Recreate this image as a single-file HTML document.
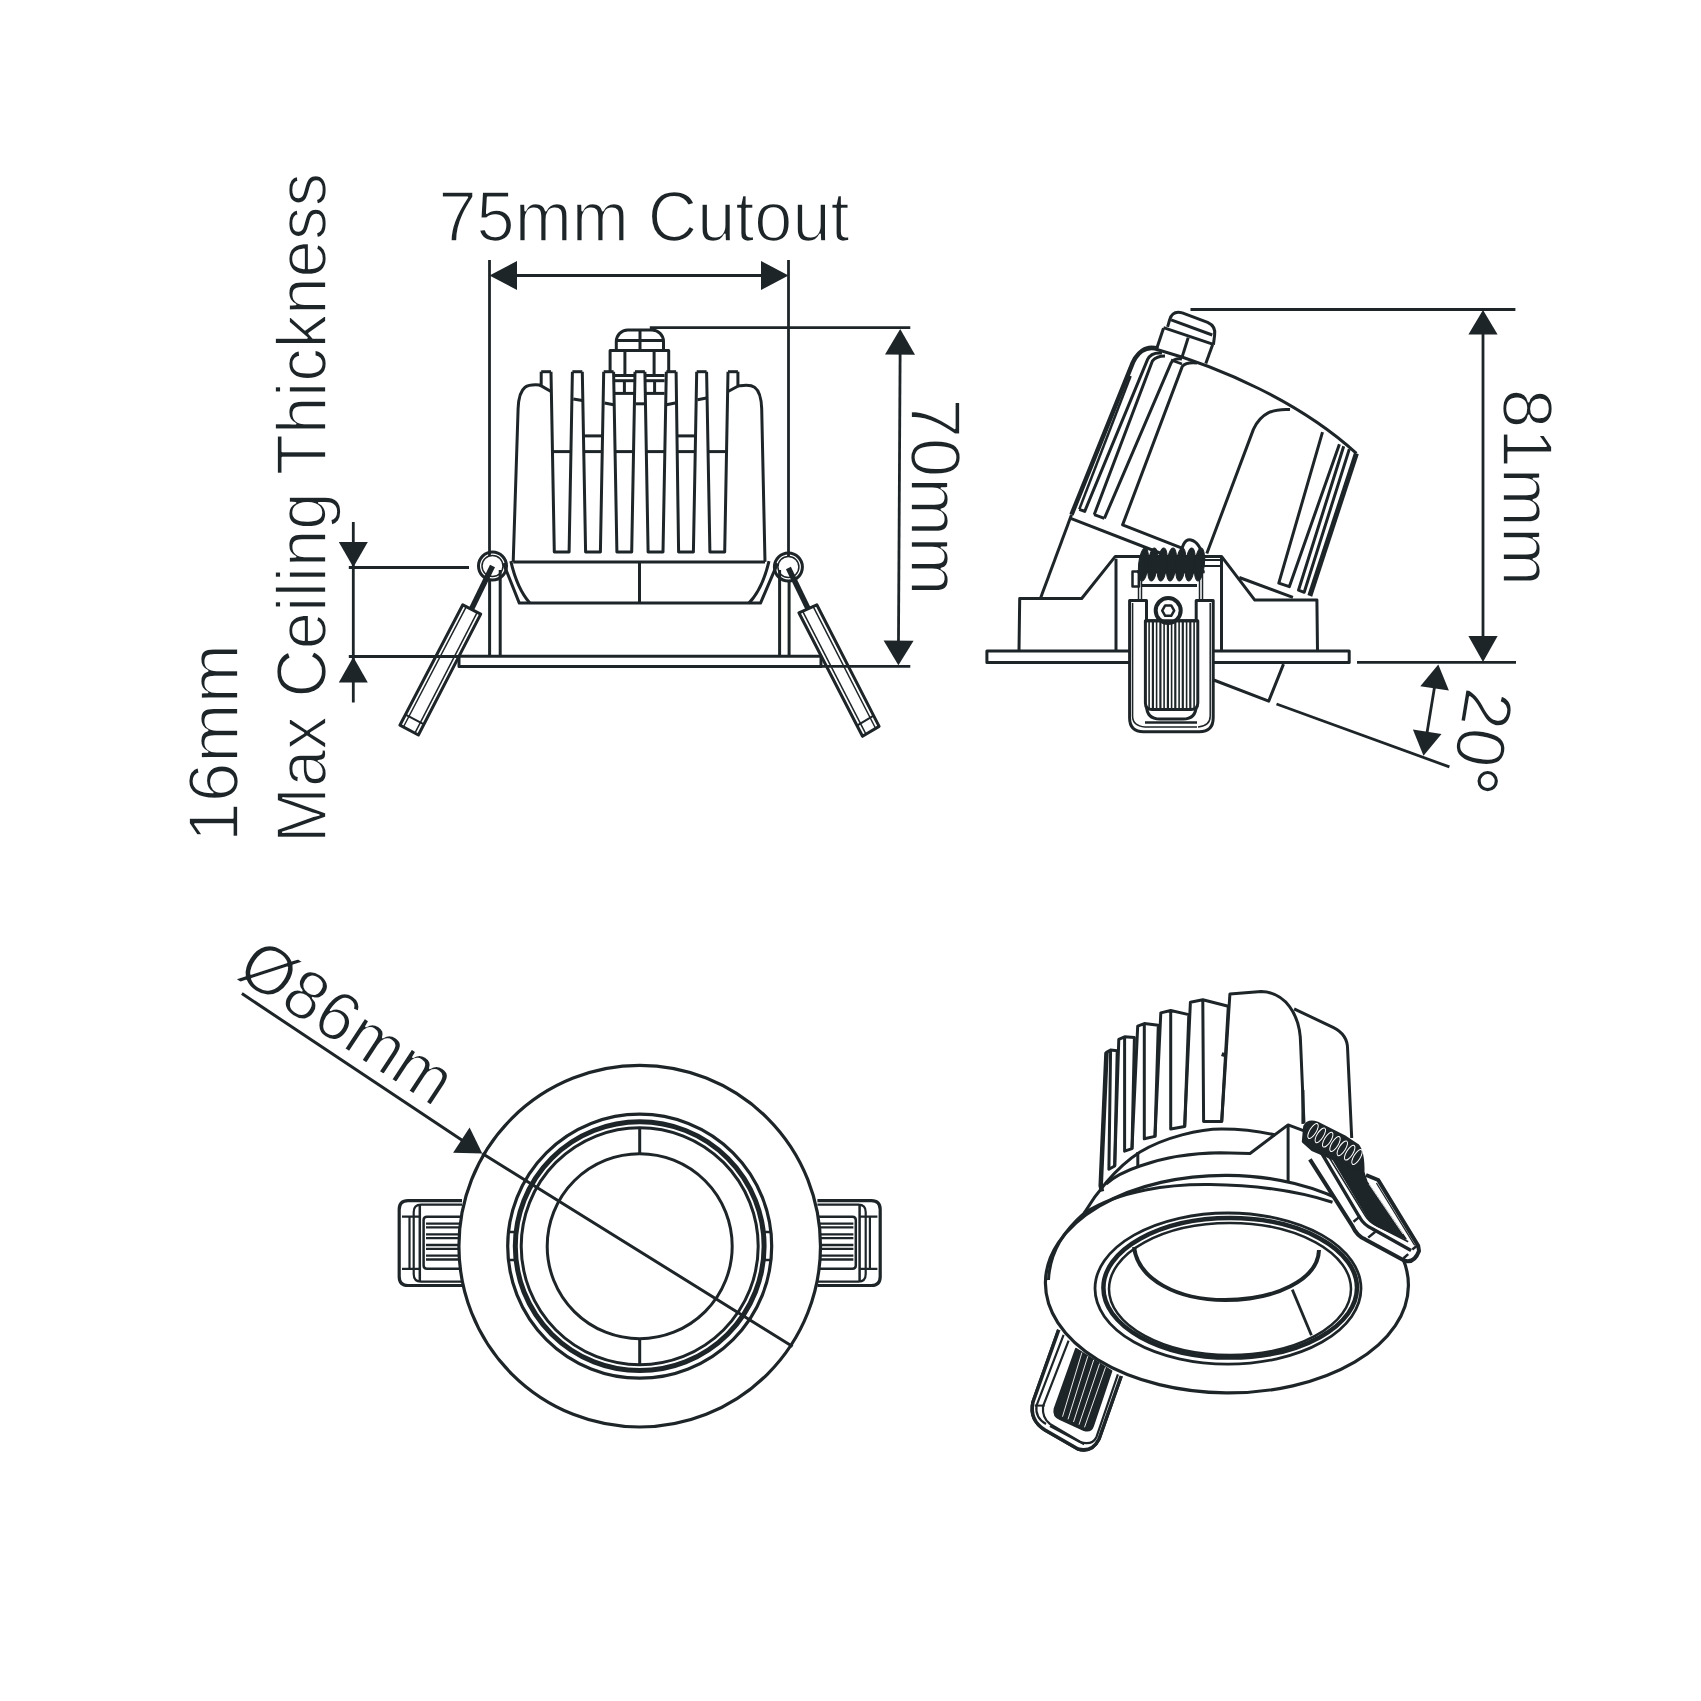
<!DOCTYPE html>
<html><head><meta charset="utf-8"><style>
html,body{margin:0;padding:0;background:#fff;}
svg{display:block;}
.t{font-family:"Liberation Sans",sans-serif;fill:#1e2528;stroke:#fff;stroke-width:1.7px;}
</style></head><body>
<svg width="1701" height="1701" viewBox="0 0 1701 1701">
<rect width="1701" height="1701" fill="#fff"/>
<g stroke="#1e2528" fill="none" stroke-linejoin="round" stroke-linecap="butt">
<path d="M489.5 260.0 L489.5 556.0" stroke-width="2.8"/>
<path d="M788.5 260.0 L788.5 556.0" stroke-width="2.8"/>
<path d="M500.0 275.5 L780.0 275.5" stroke-width="2.8"/>
<path d="M489.5 275.5 L517.0 290.0 L517.0 261.0 Z" fill="#1e2528" stroke="none"/>
<path d="M788.5 275.5 L761.0 261.0 L761.0 290.0 Z" fill="#1e2528" stroke="none"/>
<text x="0" y="0" transform="translate(438.5 240.7) rotate(0)" font-size="69.8" textLength="411.0" lengthAdjust="spacingAndGlyphs" class="t">75mm Cutout</text>
<path d="M649.8 327.6 L910.3 327.6" stroke-width="2.8"/>
<path d="M821.0 666.3 L910.3 666.3" stroke-width="2.8"/>
<path d="M900.2 340.0 L898.4 655.0" stroke-width="2.8"/>
<path d="M900.2 329.0 L885.0 354.6 L915.0 354.8 Z" fill="#1e2528" stroke="none"/>
<path d="M898.4 665.2 L913.6 640.7 L883.6 640.5 Z" fill="#1e2528" stroke="none"/>
<text x="0" y="0" transform="translate(911.4 398.4) rotate(90)" font-size="69.8" textLength="197.2" lengthAdjust="spacingAndGlyphs" class="t">70mm</text>
<path d="M353.3 522.0 L353.3 702.5" stroke-width="2.8"/>
<path d="M348.8 567.5 L469.0 567.5" stroke-width="2.8"/>
<path d="M348.8 656.5 L459.0 656.5" stroke-width="2.8"/>
<path d="M353.3 567.3 L367.8 542.0 L338.8 542.0 Z" fill="#1e2528" stroke="none"/>
<path d="M353.3 657.0 L338.8 682.4 L367.8 682.4 Z" fill="#1e2528" stroke="none"/>
<text x="0" y="0" transform="translate(326.0 843.0) rotate(-90)" font-size="69.8" textLength="670.0" lengthAdjust="spacingAndGlyphs" class="t">Max Ceiling Thickness</text>
<text x="0" y="0" transform="translate(237.6 842.0) rotate(-90)" font-size="69.8" textLength="198.0" lengthAdjust="spacingAndGlyphs" class="t">16mm</text>
<path d="M513.2 561.9 L518.1 408.8 C518.9 384.1 528.8 384.1 539.5 384.9 L541.2 384.9" stroke-width="3"/>
<path d="M765.0 561.9 L761.7 408.8 C760.9 384.1 751.0 384.1 740.3 385.7 L737.9 385.7" stroke-width="3"/>
<path d="M541.2 371.7 L551.0 371.7" stroke-width="3" fill="none" />
<path d="M572.4 371.7 L582.3 371.7" stroke-width="3" fill="none" />
<path d="M603.7 371.7 L613.6 371.7" stroke-width="3" fill="none" />
<path d="M635.0 371.7 L644.9 371.7" stroke-width="3" fill="none" />
<path d="M666.3 371.7 L676.1 371.7" stroke-width="3" fill="none" />
<path d="M696.7 371.7 L706.6 371.7" stroke-width="3" fill="none" />
<path d="M728.0 371.7 L737.9 371.7" stroke-width="3" fill="none" />
<path d="M541.2 371.7 L541.2 384.9" stroke-width="3" fill="none" />
<path d="M737.9 371.7 L737.9 385.7" stroke-width="3" fill="none" />
<path d="M551.0 371.7 L554.3 552.0 L569.1 552.0 L572.4 371.7" stroke-width="3" fill="none" />
<path d="M552.5 451.6 L571.0 451.6" stroke-width="3" fill="none" />
<path d="M582.3 371.7 L585.6 552.0 L600.4 552.0 L603.7 371.7" stroke-width="3" fill="none" />
<path d="M583.8 451.6 L602.2 451.6" stroke-width="3" fill="none" />
<path d="M613.6 371.7 L616.9 552.0 L631.7 552.0 L635.0 371.7" stroke-width="3" fill="none" />
<path d="M615.0 451.6 L633.5 451.6" stroke-width="3" fill="none" />
<path d="M644.9 371.7 L648.1 552.0 L663.0 552.0 L666.3 371.7" stroke-width="3" fill="none" />
<path d="M646.3 451.6 L664.8 451.6" stroke-width="3" fill="none" />
<path d="M676.1 371.7 L678.6 552.0 L693.4 552.0 L696.7 371.7" stroke-width="3" fill="none" />
<path d="M677.2 451.6 L695.2 451.6" stroke-width="3" fill="none" />
<path d="M706.6 371.7 L709.9 552.0 L724.7 552.0 L728.0 371.7" stroke-width="3" fill="none" />
<path d="M708.0 451.6 L726.5 451.6" stroke-width="3" fill="none" />
<path d="M583.5 435.9 L602.5 435.9" stroke-width="3" fill="none" />
<path d="M677.0 435.9 L695.5 435.9" stroke-width="3" fill="none" />
<path d="M539.5 384.9 L551.0 391.5" stroke-width="3" fill="none" />
<path d="M573.3 398.9 L582.3 400.5" stroke-width="3" fill="none" />
<path d="M604.5 403.0 L613.6 404.7" stroke-width="3" fill="none" />
<path d="M635.8 403.8 L644.9 403.8" stroke-width="3" fill="none" />
<path d="M666.3 404.7 L675.3 403.0" stroke-width="3" fill="none" />
<path d="M697.5 399.7 L706.6 398.1" stroke-width="3" fill="none" />
<path d="M728.0 391.5 L738.7 385.7" stroke-width="3" fill="none" />
<path d="M616.3 350 V341.5 A11.5 11.5 0 0 1 627.8 330 H652 A11.5 11.5 0 0 1 663.5 341.5 V350" stroke-width="3"/>
<path d="M616.3 340.5 L663.5 340.5" stroke-width="3"/>
<path d="M640.0 330.0 L640.0 350.0" stroke-width="3"/>
<path d="M610.1 372 V350.6 H668.7 V372" stroke-width="3"/>
<path d="M624.9 350.6 L624.9 374.0" stroke-width="3"/>
<path d="M654.1 350.6 L654.1 374.0" stroke-width="3"/>
<path d="M613.6 375.5 L635.0 375.5" stroke-width="3" fill="none" />
<path d="M644.9 375.5 L664.6 375.5" stroke-width="3" fill="none" />
<path d="M613.6 380.7 L635.0 380.7" stroke-width="3" fill="none" />
<path d="M644.9 380.7 L664.6 380.7" stroke-width="3" fill="none" />
<path d="M613.6 393.4 L635.0 393.4" stroke-width="3" fill="none" />
<path d="M644.9 393.4 L664.6 393.4" stroke-width="3" fill="none" />
<path d="M624.4 380.7 L624.4 393.4" stroke-width="3" fill="none" />
<path d="M654.6 380.7 L654.6 393.4" stroke-width="3" fill="none" />
<path d="M513.2 561.9 L765.0 561.9" stroke-width="3" fill="none" />
<path d="M503.4 563.3 L519.3 603.1 L760.5 603.1 L777.5 563.3" stroke-width="3" fill="none" />
<path d="M510.8 561.2 Q517.1 588.7 529.8 603.1" stroke-width="3"/>
<path d="M769.0 561.2 Q762.6 588.7 748.9 603.1" stroke-width="3"/>
<path d="M639.5 561.2 L639.5 603.1" stroke-width="3" fill="none" />
<path d="M489.6 580.0 L489.6 656.0" stroke-width="3"/>
<path d="M500.2 570.0 L500.2 656.0" stroke-width="3"/>
<path d="M779.6 570.0 L779.6 656.0" stroke-width="3"/>
<path d="M789.1 580.0 L789.1 656.0" stroke-width="3"/>
<path d="M459.0 656.2 L459.0 666.6 L821.0 666.6 L821.0 656.2" stroke-width="3" fill="none" />
<path d="M459.0 656.2 L821.0 656.2" stroke-width="3"/>
<circle cx="492.5" cy="566" r="14" stroke-width="3"/>
<circle cx="492.5" cy="566" r="10.5" stroke-width="1.5"/>
<circle cx="788.4" cy="567" r="14" stroke-width="3"/>
<circle cx="788.4" cy="567" r="10.5" stroke-width="1.5"/>
<path d="M462.8 604.8 L480.7 614.1 L418.4 735.0 L399.9 725.2 Z" stroke-width="3" fill="none" />
<path d="M466.3 606.6 L403.4 727.0" stroke-width="1.5" fill="none" />
<path d="M477.2 612.3 L414.9 733.2" stroke-width="1.5" fill="none" />
<path d="M405.5 714.6 L424.0 724.4" stroke-width="2" fill="none" />
<path d="M798.9 612.8 L816.8 604.8 L879.1 726.4 L862.5 736.3 Z" stroke-width="3" fill="none" />
<path d="M802.6 611.2 L866.2 734.7" stroke-width="1.5" fill="none" />
<path d="M813.1 606.4 L875.4 728.0" stroke-width="1.5" fill="none" />
<path d="M857.0 725.6 L873.6 715.7" stroke-width="2" fill="none" />
<path d="M471.5 609.0 L492.5 566.0" stroke-width="5.5"/>
<path d="M808.0 608.5 L788.4 568.0" stroke-width="5.5"/>
<path d="M1190.5 309.5 L1515.4 309.5" stroke-width="2.8"/>
<path d="M1357.0 662.3 L1516.0 662.3" stroke-width="2.8"/>
<path d="M1483.0 325.0 L1483.0 648.0" stroke-width="2.8"/>
<path d="M1483.0 310.1 L1468.4 334.6 L1497.6 334.6 Z" fill="#1e2528" stroke="none"/>
<path d="M1483.0 662.0 L1497.6 636.0 L1468.4 636.0 Z" fill="#1e2528" stroke="none"/>
<text x="0" y="0" transform="translate(1503.2 388.8) rotate(90)" font-size="69.8" textLength="197.4" lengthAdjust="spacingAndGlyphs" class="t">81mm</text>
<path d="M1276.5 704.0 L1449.4 766.9" stroke-width="2.8"/>
<path d="M1436.5 675.0 L1425.0 745.0" stroke-width="2.8"/>
<path d="M1438.3 664.4 L1420.3 686.2 L1448.9 690.6 Z" fill="#1e2528" stroke="none"/>
<path d="M1423.5 755.8 L1441.5 734.0 L1412.9 729.6 Z" fill="#1e2528" stroke="none"/>
<text x="0" y="0" transform="translate(1466.3 686.0) rotate(99.3)" font-size="69.8" textLength="78.0" lengthAdjust="spacingAndGlyphs" class="t">20</text>
<circle cx="1487.7" cy="781.1" r="8.6" stroke-width="3.2"/>
<path d="M1167.6 326.8 L1169.6 319.8 C1171.7 312.9 1176.4 311.2 1182.3 312.9 L1207.6 322.3 C1212.9 324.7 1215.8 328.2 1214.6 335.3 L1213.4 344.7" stroke-width="3"/>
<path d="M1171.1 319.8 L1212.3 335.0" stroke-width="3"/>
<path d="M1163.5 327.7 L1213.4 344.4" stroke-width="3"/>
<path d="M1163.5 328.2 L1156.4 349.4" stroke-width="3"/>
<path d="M1212.6 344.7 L1205.8 363.5" stroke-width="3"/>
<path d="M1188.2 337.6 L1182.3 356.4" stroke-width="3"/>
<path d="M1071.5 514.7 L1130.6 368.2 C1136 352 1146 345 1158 349" stroke-width="4.5"/>
<path d="M1079.3 509.3 L1130.6 376" stroke-width="2.5"/>
<path d="M1079.3 509.3 L1084.7 511.4 L1147.6 359.4 Q1151 352 1162 353" stroke-width="3"/>
<path d="M1094.2 514.7 L1104.4 518.4 M1094.2 514.7 L1152.3 361.2 Q1156 356 1165 356" stroke-width="3"/>
<path d="M1104.4 518.4 L1171.1 362.9 Q1174 358 1182 359" stroke-width="3"/>
<path d="M1182.6 548.4 L1122.6 524.9 L1182.3 366.4 Q1186 362 1197 363" stroke-width="3"/>
<path d="M1171 360 L1182 364" stroke-width="2.5"/>
<path d="M1157 349.5 C1220 367 1300 402 1356.4 453.4" stroke-width="3"/>
<path d="M1070.7 518.4 L1160 553" stroke-width="3"/>
<path d="M1071.5 514.7 L1040.4 598.5" stroke-width="3"/>
<path d="M1206.8 553.5 L1253.4 429.4 C1261 413 1273 408.5 1290 409.5" stroke-width="3"/>
<path d="M1356.4 453.4 L1309.8 595.9" stroke-width="5"/>
<path d="M1322.5 432.2 L1278.8 583.2 L1289.3 586.7 L1339.4 444.2" stroke-width="3"/>
<path d="M1343.7 446.3 L1298.5 590.2 L1304.2 592.3 L1349.3 449.1" stroke-width="3"/>
<path d="M1239.3 577.5 L1292.9 597.3" stroke-width="3"/>
<path d="M1019 650.4 L1019.7 598.5 L1081.7 598.5 L1115.3 556.4 L1221.5 556.4 L1254.8 600.1 L1316.9 600.1 L1317.5 650.4" stroke-width="3"/>
<path d="M1116.0 558.7 L1116.0 650.4" stroke-width="3"/>
<path d="M1221.5 556.4 L1221.5 650.4" stroke-width="3"/>
<path d="M986.9 650.9 H1349.2 V662.5 H986.9 Z" stroke-width="3"/>
<path d="M1213.7 680 L1268.7 701.1 L1283.5 664.1" stroke-width="3"/>
<path d="M1129.6 600.6 V717.8 Q1129.6 731.8 1143.6 731.8 H1199.2 Q1213.2 731.8 1213.2 717.8 V600.6 H1196.2 V705 Q1196.2 719.1 1183 719.1 H1160 Q1146.5 719.1 1146.5 705 V600.6 Z" fill="#fff" stroke-width="3"/>
<path d="M1132.6 603 V716 Q1132.6 726 1145 727 M1210.2 603 V716 Q1210.2 726 1198 727" stroke-width="1.5"/>
<path d="M1145.0 722.6 L1197.0 722.6" stroke-width="2.5"/>
<path d="M1145.0 727.0 L1197.0 727.0" stroke-width="1.5"/>
<path d="M1145.4 620.7 H1197.8 V703 Q1197.8 709.6 1191 709.6 H1152 Q1145.4 709.6 1145.4 703 Z" fill="#fff" stroke-width="3"/>
<path d="M1149.1 622.0 L1149.1 708.0" stroke-width="1.6"/>
<path d="M1152.9 622.0 L1152.9 708.0" stroke-width="2.2"/>
<path d="M1156.6 622.0 L1156.6 708.0" stroke-width="1.6"/>
<path d="M1160.4 622.0 L1160.4 708.0" stroke-width="2.2"/>
<path d="M1164.1 622.0 L1164.1 708.0" stroke-width="1.6"/>
<path d="M1167.9 622.0 L1167.9 708.0" stroke-width="2.2"/>
<path d="M1171.6 622.0 L1171.6 708.0" stroke-width="1.6"/>
<path d="M1175.3 622.0 L1175.3 708.0" stroke-width="2.2"/>
<path d="M1179.1 622.0 L1179.1 708.0" stroke-width="1.6"/>
<path d="M1182.8 622.0 L1182.8 708.0" stroke-width="2.2"/>
<path d="M1186.6 622.0 L1186.6 708.0" stroke-width="1.6"/>
<path d="M1190.3 622.0 L1190.3 708.0" stroke-width="2.2"/>
<path d="M1194.1 622.0 L1194.1 708.0" stroke-width="1.6"/>
<circle cx="1168.2" cy="610.6" r="12.5" fill="#fff" stroke-width="4"/>
<path d="M1132.5 571.5 H1139 V586.5 H1132.5 Z" stroke-width="2.5"/>
<path d="M1174.2 610.6 L1171.2 605.4 L1165.2 605.4 L1162.2 610.6 L1165.2 615.8 L1171.2 615.8 Z" stroke-width="2.5"/>
<path d="M1145.4 620.7 H1197.8" stroke-width="3"/>
<path d="M1137 571.7 H1204.7 M1141 585.5 H1197" stroke-width="3"/>
<path d="M1138.5 572.0 L1138.5 600.6" stroke-width="1.5"/>
<path d="M1141.5 572.0 L1141.5 600.6" stroke-width="1.5"/>
<path d="M1199.5 572.0 L1199.5 600.6" stroke-width="1.5"/>
<path d="M1202.5 572.0 L1202.5 600.6" stroke-width="1.5"/>
<ellipse cx="1143.5" cy="564.5" rx="4.9" ry="16.5" transform="rotate(6 1143.5 564.5)" fill="#1e2528" stroke="#1e2528" stroke-width="1"/>
<ellipse cx="1152.8" cy="564.5" rx="4.9" ry="16.5" transform="rotate(6 1152.8 564.5)" fill="#1e2528" stroke="#1e2528" stroke-width="1"/>
<ellipse cx="1162.2" cy="564.5" rx="4.9" ry="16.5" transform="rotate(6 1162.2 564.5)" fill="#1e2528" stroke="#1e2528" stroke-width="1"/>
<ellipse cx="1171.5" cy="564.5" rx="4.9" ry="16.5" transform="rotate(6 1171.5 564.5)" fill="#1e2528" stroke="#1e2528" stroke-width="1"/>
<ellipse cx="1180.8" cy="564.5" rx="4.9" ry="16.5" transform="rotate(6 1180.8 564.5)" fill="#1e2528" stroke="#1e2528" stroke-width="1"/>
<ellipse cx="1190.2" cy="564.5" rx="4.9" ry="16.5" transform="rotate(6 1190.2 564.5)" fill="#1e2528" stroke="#1e2528" stroke-width="1"/>
<ellipse cx="1199.5" cy="564.5" rx="4.9" ry="16.5" transform="rotate(6 1199.5 564.5)" fill="#1e2528" stroke="#1e2528" stroke-width="1"/>
<path d="M1180 560 Q1182 538 1191 540 Q1200 542 1204 560" stroke-width="3"/>
<path d="M1204 560 H1222 M1204 566 H1222" stroke-width="1.8"/>
<path d="M462.0 1200.6 H408.0 Q399.2 1200.6 399.2 1209.6 V1276.5 Q399.2 1285.5 408.0 1285.5 H462.0" stroke-width="3.2"/>
<path d="M462.0 1204.6 H421.0 Q413.7 1204.6 413.7 1212 V1274 Q413.7 1281.6 421.0 1281.6 H462.0" stroke-width="2.2"/>
<path d="M419.8 1205 V1281" stroke-width="2.5"/>
<path d="M409.5 1216.7 V1269" stroke-width="2.2"/>
<path d="M402.0 1216.7 H420.0 M402.0 1268.9 H420.0" stroke-width="2.2"/>
<path d="M462.0 1216.7 H427.0 Q423.6 1216.7 423.6 1220 V1265.5 Q423.6 1268.7 427.0 1268.7 H462.0" stroke-width="2.5"/>
<path d="M426.0 1223.6 H461.0" stroke-width="2.3"/>
<path d="M426.0 1227.4 H461.0" stroke-width="2.3"/>
<path d="M426.0 1234.3 H461.0" stroke-width="2.3"/>
<path d="M426.0 1238.1 H461.0" stroke-width="2.3"/>
<path d="M426.0 1245 H461.0" stroke-width="2.3"/>
<path d="M426.0 1248.8 H461.0" stroke-width="2.3"/>
<path d="M426.0 1255.7 H461.0" stroke-width="2.3"/>
<path d="M426.0 1259.5 H461.0" stroke-width="2.3"/>
<path d="M817.4 1200.6 H871.4 Q880.2 1200.6 880.2 1209.6 V1276.5 Q880.2 1285.5 871.4 1285.5 H817.4" stroke-width="3.2"/>
<path d="M817.4 1204.6 H858.4 Q865.7 1204.6 865.7 1212 V1274 Q865.7 1281.6 858.4 1281.6 H817.4" stroke-width="2.2"/>
<path d="M859.6 1205 V1281" stroke-width="2.5"/>
<path d="M869.9 1216.7 V1269" stroke-width="2.2"/>
<path d="M877.4 1216.7 H859.4 M877.4 1268.9 H859.4" stroke-width="2.2"/>
<path d="M817.4 1216.7 H852.4 Q855.8 1216.7 855.8 1220 V1265.5 Q855.8 1268.7 852.4 1268.7 H817.4" stroke-width="2.5"/>
<path d="M853.4 1223.6 H818.4" stroke-width="2.3"/>
<path d="M853.4 1227.4 H818.4" stroke-width="2.3"/>
<path d="M853.4 1234.3 H818.4" stroke-width="2.3"/>
<path d="M853.4 1238.1 H818.4" stroke-width="2.3"/>
<path d="M853.4 1245 H818.4" stroke-width="2.3"/>
<path d="M853.4 1248.8 H818.4" stroke-width="2.3"/>
<path d="M853.4 1255.7 H818.4" stroke-width="2.3"/>
<path d="M853.4 1259.5 H818.4" stroke-width="2.3"/>
<circle cx="639.7" cy="1246.2" r="180.8" fill="#fff" stroke-width="3.2"/>
<circle cx="639.7" cy="1246.2" r="132" stroke-width="3.2"/>
<circle cx="639.7" cy="1246.2" r="124.4" stroke-width="5"/>
<circle cx="639.7" cy="1246.2" r="118.5" stroke-width="3"/>
<circle cx="639.7" cy="1246.2" r="92.5" stroke-width="3"/>
<path d="M639.7 1127.7 L639.7 1153.7" stroke-width="3"/>
<path d="M639.7 1338.7 L639.7 1364.7" stroke-width="3"/>
<path d="M507.5 1232 H515.0 M507.5 1260 H515.0" stroke-width="2.5"/>
<path d="M771.9 1232 H764.4 M771.9 1260 H764.4" stroke-width="2.5"/>
<path d="M241.9 993.6 L470 1145.5 M482.3 1153.5 L792.6 1346.5" stroke-width="3"/>
<path d="M482.3 1153.4 L453.1 1152.7 L469.6 1127.6 Z" fill="#1e2528" stroke="none"/>
<text x="0" y="0" transform="translate(234.0 976.2) rotate(33.3)" font-size="69.8" textLength="240.0" lengthAdjust="spacingAndGlyphs" class="t">Ø86mm</text>
<path d="M1100.7 1185.8 L1106.5 1052.4 L1110.6 1050.0 L1117.2 1050.8 L1114.7 1166.0 L1108.9 1169.3 L1110.6 1050.0" stroke-width="3"/>
<path d="M1114.7 1166.0 L1118.8 1039.3 L1124.6 1036.8 L1134.4 1037.6 L1132.0 1148.7 L1124.6 1151.2 L1124.6 1036.8" stroke-width="3"/>
<path d="M1132.0 1148.7 L1137.7 1026.1 L1144.3 1023.6 L1158.3 1025.3 L1155.0 1136.4 L1144.3 1138.8 L1144.3 1023.6" stroke-width="3"/>
<path d="M1155.0 1136.4 L1160.8 1012.9 L1170.7 1010.5 L1188.8 1014.6 L1184.7 1126.5 L1170.7 1129.0 L1170.7 1010.5" stroke-width="3"/>
<path d="M1184.7 1126.5 L1190.4 1002.2 L1202.8 999.8 L1228.3 1006.3 L1221.7 1121.6 L1203.6 1121.6 L1202.8 999.8" stroke-width="3"/>
<path d="M1106.5 1052.4 L1100.7 1185.8 L1102 1191.5" stroke-width="4.5"/>
<path d="M1221.7 1121.6 L1229.9 994.0 L1261.2 991.5 C1284.2 992.3 1300.7 1012.9 1300.7 1045.8 L1304.0 1123.2" stroke-width="3"/>
<path d="M1294.1 1008.8 L1333.6 1027.7 C1343.5 1032.7 1347.6 1039.3 1347.6 1049.1 L1351.7 1138.0" stroke-width="3"/>
<path d="M1221.7 1054.1 L1226.6 1055.7" stroke-width="4"/>
<path d="M1058.7 1329.9 L1033 1402 Q1029 1420 1045 1430 L1078 1449 Q1092 1453 1099 1439 L1121.2 1376" fill="#fff" stroke-width="3.5"/>
<path d="M1063.6 1334.8 L1036.5 1405.6 Q1035 1418 1046 1424 M1068.6 1340.6 L1043 1406.4 Q1042 1418 1050 1424 L1084.2 1444.3" stroke-width="2.2"/>
<path d="M1034.8 1405.6 H1044.7" stroke-width="2"/>
<path d="M1117.9 1374.3 L1096.5 1436.9 Q1092 1446 1080 1442 L1050 1426" stroke-width="2.2"/>
<path d="M1076 1348.8 L1054.6 1408.9 Q1053 1416 1060 1419 L1084 1430 Q1091 1432 1093 1426 L1111.4 1371 Z" fill="#fff" stroke-width="2.5"/>
<path d="M1079.5 1351.0 L1060.3 1417.4" stroke-width="2.6"/>
<path d="M1083.1 1353.2 L1063.6 1418.8" stroke-width="1.8"/>
<path d="M1086.6 1355.5 L1066.9 1420.2" stroke-width="2.6"/>
<path d="M1090.2 1357.7 L1070.2 1421.6" stroke-width="1.8"/>
<path d="M1093.7 1359.9 L1073.5 1423.0" stroke-width="2.6"/>
<path d="M1097.2 1362.1 L1076.8 1424.4" stroke-width="1.8"/>
<path d="M1100.8 1364.3 L1080.1 1425.8" stroke-width="2.6"/>
<path d="M1104.3 1366.6 L1083.4 1427.2" stroke-width="1.8"/>
<path d="M1107.9 1368.8 L1086.7 1428.6" stroke-width="2.6"/>
<path d="M1058.7 1329.9 L1033 1402 Q1029 1420 1045 1430 L1078 1449 Q1092 1453 1099 1439 L1121.2 1376" fill="#fff" stroke-width="3.5"/>
<path d="M1063.6 1334.8 L1036.5 1405.6 Q1035 1418 1046 1424 M1068.6 1340.6 L1043 1406.4 Q1042 1418 1050 1424 L1084.2 1444.3" stroke-width="2.2"/>
<path d="M1034.8 1405.6 H1044.7" stroke-width="2"/>
<path d="M1117.9 1374.3 L1096.5 1436.9 Q1092 1446 1080 1442 L1050 1426" stroke-width="2.2"/>
<path d="M1076 1348.8 L1054.6 1408.9 Q1053 1416 1060 1419 L1084 1430 Q1091 1432 1093 1426 L1111.4 1371 Z" fill="#1e2528" stroke-width="2"/>
<path d="M1081.9 1352.5 L1062.5 1416.7" stroke="#fff" stroke-width="0.9"/>
<path d="M1087.8 1356.2 L1068.0 1419.3" stroke="#fff" stroke-width="0.9"/>
<path d="M1093.7 1359.9 L1073.5 1422.0" stroke="#fff" stroke-width="0.9"/>
<path d="M1099.6 1363.6 L1079.0 1424.7" stroke="#fff" stroke-width="0.9"/>
<path d="M1105.5 1367.3 L1084.5 1427.3" stroke="#fff" stroke-width="0.9"/>
<ellipse cx="1226.9" cy="1284.1" rx="181.5" ry="108.8" transform="rotate(0.5 1226.9 1284.1)" fill="#fff" stroke-width="3.2"/>
<path d="M1048.5 1280 C1050 1250 1065 1230 1084.2 1213.1 C1120 1190 1170 1184 1210 1184.5 C1260 1185 1300 1192 1332.5 1202.2" stroke-width="3"/>
<path d="M1084.2 1213.1 C1095 1195 1115 1168 1140 1152 C1165 1137 1200 1129 1221.7 1129 C1240 1129 1258 1131 1275 1135" stroke-width="3"/>
<path d="M1105.9 1184 C1115 1176 1128 1170 1140 1166 C1160 1159 1190 1153 1220 1152.8 L1250 1153.5 L1288.1 1124.9 L1313.5 1134.4" stroke-width="3"/>
<path d="M1137.8 1152.0 L1137.8 1167.0" stroke-width="3"/>
<path d="M1288.1 1126.0 L1288.1 1182.1" stroke-width="3"/>
<ellipse cx="1228" cy="1288.6" rx="133" ry="75.6" stroke-width="2.8"/>
<ellipse cx="1230.2" cy="1287.8" rx="126.8" ry="69.8" stroke-width="4.5"/>
<ellipse cx="1230" cy="1289" rx="121" ry="66" stroke-width="2.5"/>
<path d="M1134 1247 C1138 1280 1178 1300 1225 1300 C1275 1300 1318 1280 1319 1250" stroke-width="4"/>
<path d="M1292.3 1289.6 L1311.4 1335.2" stroke-width="2.8"/>
<path d="M1309.9 1159.4 L1352.3 1225.8 Q1357 1236 1365.3 1239.4 L1404.1 1260.5 Q1414 1264 1419 1251 L1418.2 1245.8 L1378.2 1180 L1366 1175" fill="#fff" stroke-width="4"/>
<path d="M1321.2 1152.3 L1359.4 1217 Q1364 1225 1372.3 1228.8 L1411.1 1250.5" stroke-width="3.4"/>
<path d="M1328.2 1155.9 L1365.3 1215.9 Q1369 1222 1375.9 1225.3 L1408.2 1241.7" stroke-width="1.6"/>
<path d="M1331 1156 L1364 1173 L1367 1182 L1406 1239 L1378 1226.5 Q1371 1223 1367.5 1217 Z" fill="#1e2528" stroke="#1e2528" stroke-width="1.5"/>
<path d="M1369 1184 L1403 1234" stroke="#fff" stroke-width="0.8"/>
<path d="M1376.4 1183 L1414.7 1245.3" stroke-width="1.3"/>
<path d="M1302.8 1141.7 L1304.2 1126.2 Q1308 1119 1317.6 1122.7 L1345.9 1137 L1358 1145 Q1364 1152 1363.5 1173.5 L1326 1156 L1312 1150 Z" fill="#1e2528" stroke="#1e2528" stroke-width="2"/>
<ellipse cx="1313.0" cy="1131.0" rx="3.2" ry="8.5" transform="rotate(32 1313.0 1131.0)" stroke="#fff" stroke-width="1"/>
<ellipse cx="1320.3" cy="1135.3" rx="3.2" ry="8.5" transform="rotate(32 1320.3 1135.3)" stroke="#fff" stroke-width="1"/>
<ellipse cx="1327.7" cy="1139.7" rx="3.2" ry="8.5" transform="rotate(32 1327.7 1139.7)" stroke="#fff" stroke-width="1"/>
<ellipse cx="1335.0" cy="1144.0" rx="3.2" ry="8.5" transform="rotate(32 1335.0 1144.0)" stroke="#fff" stroke-width="1"/>
<ellipse cx="1342.3" cy="1148.3" rx="3.2" ry="8.5" transform="rotate(32 1342.3 1148.3)" stroke="#fff" stroke-width="1"/>
<ellipse cx="1349.7" cy="1152.7" rx="3.2" ry="8.5" transform="rotate(32 1349.7 1152.7)" stroke="#fff" stroke-width="1"/>
<ellipse cx="1357.0" cy="1157.0" rx="3.2" ry="8.5" transform="rotate(32 1357.0 1157.0)" stroke="#fff" stroke-width="1"/>
<path d="M1353.5 1221.7 L1360.6 1215.9 M1368.2 1237.6 L1375.3 1231.7 M1403.5 1258.2 L1408.2 1254.1 M1412.3 1249.4 L1417 1245.8" stroke-width="2.5"/>
<path d="M1302.9 1090.0 L1302.9 1123.9" stroke-width="3"/>
</g></svg></body></html>
